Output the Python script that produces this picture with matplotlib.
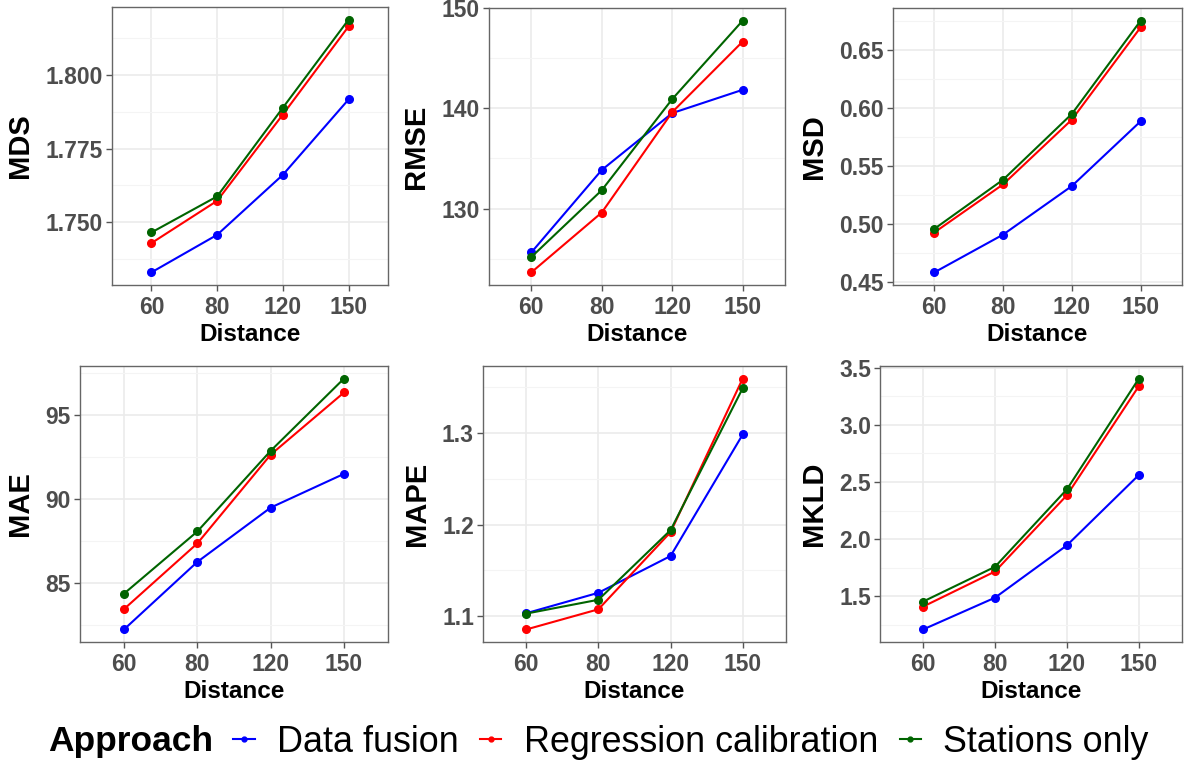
import numpy as np
import matplotlib
matplotlib.use("Agg")
import matplotlib.pyplot as plt
from matplotlib.lines import Line2D
from matplotlib.ticker import FixedLocator

plt.rcParams['font.family'] = ['Liberation Sans', 'DejaVu Sans']

# data
distance = ["60", "80", "120", "150"]
approaches = ["Data fusion", "Regression calibration", "Stations only"]
colors = ["#0000ff", "#ff0000", "#006400"]

mds = [[1.7331, 1.7458, 1.7661, 1.7916],
       [1.7430, 1.7573, 1.7865, 1.8163],
       [1.7466, 1.7588, 1.7888, 1.8186]]
rmse = [[125.61, 133.85, 139.53, 141.86],
        [123.62, 129.60, 139.63, 146.68],
        [125.15, 131.83, 140.93, 148.77]]
msd = [[0.4586, 0.4911, 0.5329, 0.5886],
       [0.4929, 0.5343, 0.5900, 0.6694],
       [0.4960, 0.5383, 0.5949, 0.6751]]
mae = [[82.22, 86.24, 89.47, 91.48],
       [83.43, 87.34, 92.62, 96.32],
       [84.35, 88.05, 92.85, 97.15]]
mape = [[1.1033, 1.1256, 1.1657, 1.2982],
        [1.0856, 1.1076, 1.1917, 1.3592],
        [1.1029, 1.1180, 1.1939, 1.3487]]
mkld = [[1.210, 1.488, 1.946, 2.561],
        [1.410, 1.717, 2.384, 3.338],
        [1.454, 1.758, 2.436, 3.404]]

metric_names = ["MDS", "RMSE", "MSD", "MAE", "MAPE", "MKLD"]
metric_data = [mds, rmse, msd, mae, mape, mkld]
major_ticks = [[1.750, 1.775, 1.800],
               [130, 140, 150],
               [0.45, 0.50, 0.55, 0.60, 0.65],
               [85, 90, 95],
               [1.1, 1.2, 1.3],
               [1.5, 2.0, 2.5, 3.0, 3.5]]
tick_fmt = ["%.3f", "%d", "%.2f", "%d", "%.1f", "%.1f"]

# panel boxes in pixels: left, top, right, bottom
W, H = 1191, 765
boxes = [(112, 7, 388, 285), (489, 8, 785, 285), (893, 8, 1182, 285),
         (80, 366, 388, 642), (483, 366, 786, 642), (880, 366, 1182, 642)]

fig = plt.figure(figsize=(W / 100, H / 100), dpi=100)
x = np.arange(1, len(distance) + 1)

for i in range(6):
    l, t, r, b = boxes[i]
    ax = fig.add_axes([l / W, 1 - b / H, (r - l) / W, (b - t) / H])
    vals = np.array(metric_data[i])
    for k in range(3):
        ax.plot(x, vals[k], color=colors[k], lw=1.5, marker='o', ms=5.5, zorder=3)
    lo, hi = vals.min(), vals.max()
    pad = (hi - lo) * 0.05
    ax.set_ylim(lo - pad, hi + pad)
    ax.set_xlim(0.4, 4.6)
    ax.set_xticks(x)
    ax.set_xticklabels(distance)
    mt = major_ticks[i]
    step = mt[1] - mt[0]
    ax.set_yticks(mt)
    ax.set_yticklabels([tick_fmt[i] % v for v in mt])
    minors = np.arange(mt[0] - step / 2, mt[-1] + step, step)
    ax.yaxis.set_minor_locator(FixedLocator(minors))
    ax.grid(which='major', color='#ebebeb', lw=1.2, zorder=0)
    ax.grid(which='minor', axis='y', color='#f4f4f4', lw=0.8, zorder=0)
    ax.set_axisbelow(True)
    for s in ax.spines.values():
        s.set_color('#666666')
        s.set_linewidth(1.0)
    ax.tick_params(which='major', length=4.5, width=1, color='#555555',
                   labelsize=16.5, labelcolor='#4d4d4d', pad=2)
    ax.tick_params(axis='x', pad=3.5)
    ax.tick_params(which='minor', length=0)
    for lab in ax.get_xticklabels() + ax.get_yticklabels():
        lab.set_fontweight('bold')
    ax.set_xlabel("Distance", fontsize=17.5, fontweight='bold', labelpad=3)
    ax.set_ylabel(metric_names[i], fontsize=21, fontweight='bold', labelpad=8)

# legend
fig.text(48 / W, 1 - 742 / H, "Approach", fontsize=25.5, fontweight='bold',
         va='center', ha='left')
handles = [Line2D([0], [0], color=c, lw=1.5, marker='o', ms=3.5) for c in colors]
fig.legend(handles, approaches, loc='center left',
           bbox_to_anchor=(233 / W, 1 - 742 / H), ncol=3, frameon=False,
           fontsize=25.8, handlelength=0.6, handletextpad=0.62, columnspacing=0.6,
           borderaxespad=0, borderpad=0)

fig.savefig("out.png", dpi=100)
